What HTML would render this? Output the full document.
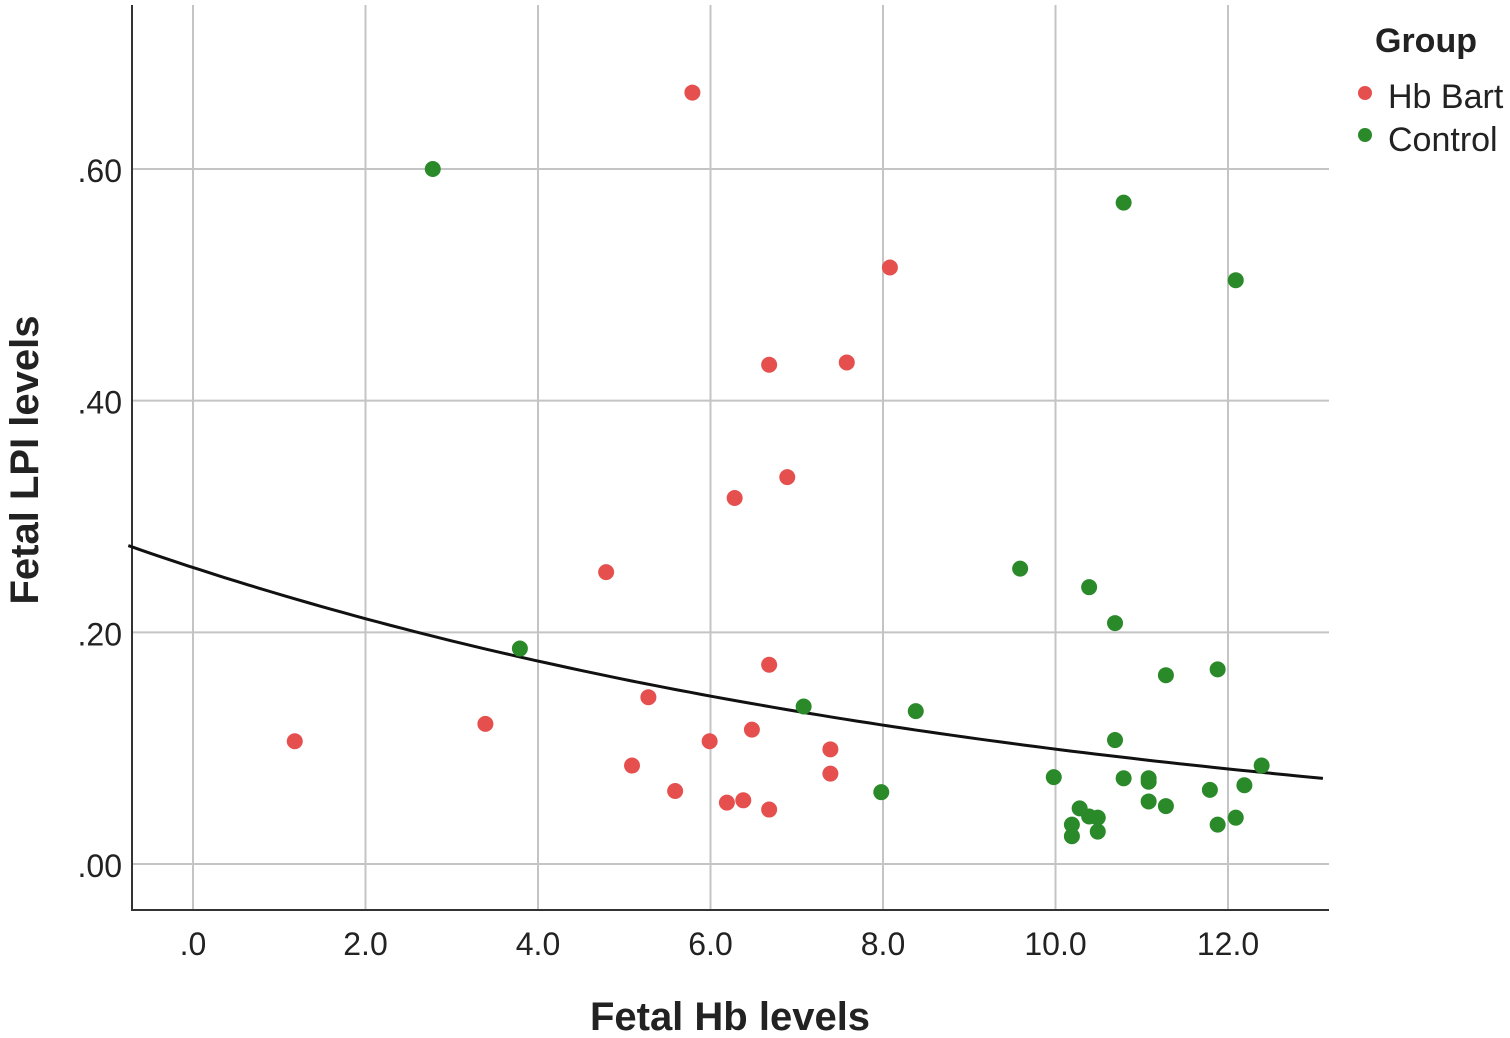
<!DOCTYPE html>
<html><head><meta charset="utf-8"><style>
html,body{margin:0;padding:0;background:#fff;}
svg{display:block;font-family:"Liberation Sans",Arial,sans-serif;}
</style></head><body>
<svg id="chart" width="1510" height="1038" viewBox="0 0 1510 1038" xmlns="http://www.w3.org/2000/svg">
<g id="grid"></g>
<g id="axes"></g>
<g id="curve"></g>
<g id="points"></g>
<text x="730" y="1030" font-size="40" font-weight="bold" text-anchor="middle" fill="#222">Fetal Hb levels</text>
<text transform="translate(38,460) rotate(-90)" font-size="40" font-weight="bold" text-anchor="middle" fill="#222">Fetal LPI levels</text>
<g>
<text x="1375" y="52" font-size="34" font-weight="bold" fill="#222">Group</text>
<circle cx="1365" cy="93" r="7" fill="#e5504f"/>
<text x="1388" y="108" font-size="34" fill="#222">Hb Bart</text>
<circle cx="1365" cy="135" r="7" fill="#2a8a2a"/>
<text x="1388" y="151" font-size="34" fill="#222">Control</text>
</g>
</svg>
<script>
const xTicks=[0,2,4,6,8,10,12];
const xTickLabels=[".0","2.0","4.0","6.0","8.0","10.0","12.0"];
const yTicks=[0,0.2,0.4,0.6];
const yTickLabels=[".00",".20",".40",".60"];
const hbBartX=[5.79,8.08,6.68,7.58,6.89,6.28,4.79,6.68,5.28,1.18,3.39,6.48,5.99,7.39,5.09,7.39,5.59,6.19,6.38,6.68];
const hbBartY=[0.666,0.515,0.431,0.433,0.334,0.316,0.252,0.172,0.144,0.106,0.121,0.116,0.106,0.099,0.085,0.078,0.063,0.053,0.055,0.047];
const controlX=[2.78,10.79,12.09,9.59,10.39,10.69,3.79,11.88,11.28,7.08,8.38,10.69,12.39,9.98,10.79,11.08,11.08,12.19,11.79,7.98,11.08,10.28,11.28,10.39,10.49,10.19,11.88,12.09,10.49,10.19];
const controlY=[0.600,0.571,0.504,0.255,0.239,0.208,0.186,0.168,0.163,0.136,0.132,0.107,0.085,0.075,0.074,0.074,0.071,0.068,0.064,0.062,0.054,0.048,0.050,0.041,0.040,0.034,0.034,0.040,0.028,0.024];
const fitA=0.256, fitB=-0.0948;

const NS="http://www.w3.org/2000/svg";
const L=132,R=1329,T=5,B=910;
const xs=v=>193+v*86.25;
const ys=v=>864-v*1158.3;
function mk(tag,attrs,parent){const e=document.createElementNS(NS,tag);for(const k in attrs)e.setAttribute(k,attrs[k]);parent.appendChild(e);return e;}
const grid=document.getElementById('grid'),axes=document.getElementById('axes'),pts=document.getElementById('points'),cur=document.getElementById('curve');
xTicks.forEach((t,i)=>{
 const l=mk('line',{x1:xs(t),x2:xs(t),y1:T,y2:B,stroke:'#c4c4c4','stroke-width':2},grid);
 
 
 const tx=mk('text',{x:xs(t),y:955,'font-size':32,'text-anchor':'middle',fill:'#222'},axes);
 tx.textContent=xTickLabels[i];
 
 
});
yTicks.forEach((t,i)=>{
 const l=mk('line',{x1:L,x2:R,y1:ys(t),y2:ys(t),stroke:'#c4c4c4','stroke-width':2},grid);
 
 
 const tx=mk('text',{x:122,y:ys(t)+13,'font-size':32,'text-anchor':'end',fill:'#222'},axes);
 tx.textContent=yTickLabels[i];
 
 
});
const ax=mk('path',{d:`M${L},${T} V${B} H${R}`,stroke:'#333','stroke-width':2,fill:'none'},axes);


let d='';
for(let i=0;i<=100;i++){const x=-0.75+i*(13.85/100);d+=(i?'L':'M')+xs(x).toFixed(1)+','+ys(fitA*Math.exp(fitB*x)).toFixed(1);}
const p=mk('path',{d:d,stroke:'#111','stroke-width':3,fill:'none'},cur);


hbBartX.forEach((x,i)=>{
 const c=mk('circle',{cx:xs(x),cy:ys(hbBartY[i]),r:8,fill:'#e5504f'},pts);
 
 
});
controlX.forEach((x,i)=>{
 const c=mk('circle',{cx:xs(x),cy:ys(controlY[i]),r:8,fill:'#2a8a2a'},pts);
 
 
});
</script>
</body></html>
